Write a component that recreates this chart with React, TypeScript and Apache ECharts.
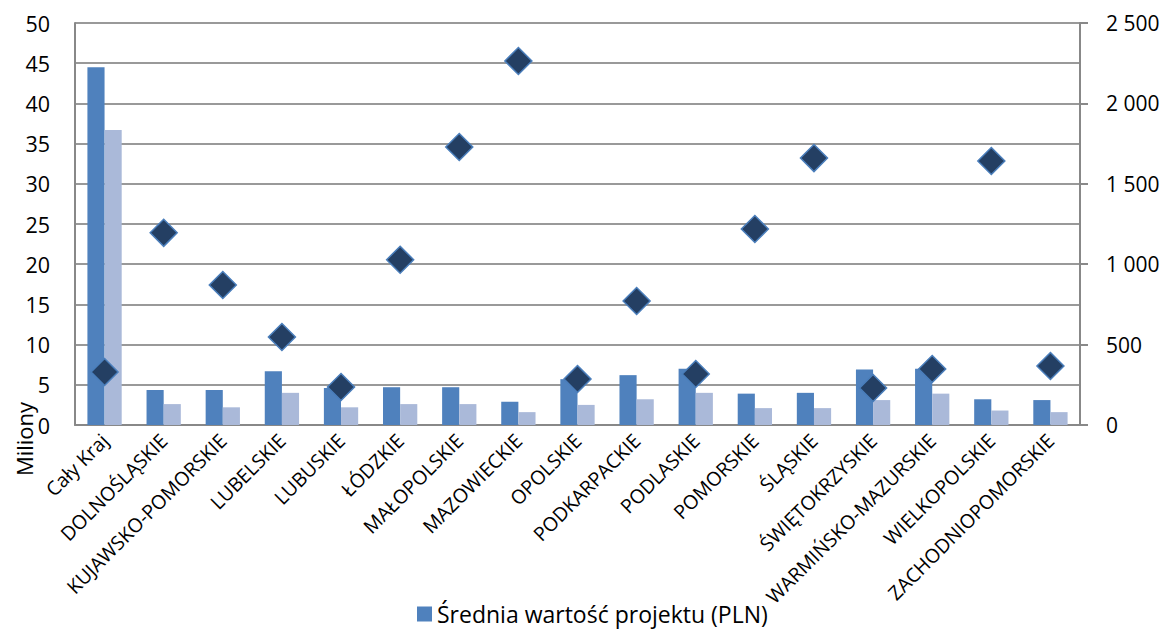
import React, { useEffect, useRef } from "react";
import * as echarts from "echarts";

const categories = [
  "Cały Kraj", "DOLNOŚLĄSKIE", "KUJAWSKO-POMORSKIE", "LUBELSKIE", "LUBUSKIE", "ŁÓDZKIE",
  "MAŁOPOLSKIE", "MAZOWIECKIE", "OPOLSKIE", "PODKARPACKIE", "PODLASKIE", "POMORSKIE",
  "ŚLĄSKIE", "ŚWIĘTOKRZYSKIE", "WARMIŃSKO-MAZURSKIE", "WIELKOPOLSKIE", "ZACHODNIOPOMORSKIE",
];
const sredniaWartosc = [44.5, 4.35, 4.35, 6.7, 4.6, 4.7, 4.7, 2.9, 5.7, 6.2, 7.0, 3.9, 4.0, 6.9, 7.0, 3.2, 3.1];
const medianaWartosc = [36.7, 2.6, 2.2, 4.0, 2.2, 2.6, 2.6, 1.6, 2.5, 3.2, 4.0, 2.1, 2.1, 3.1, 3.9, 1.8, 1.6];
const liczbaProjektow = [330, 1195, 871, 547, 236, 1028, 1729, 2264, 286, 771, 317, 1219, 1660, 230, 348, 1642, 367];
const leftTicks = { min: 0, max: 50, interval: 5 };
const rightTicks = { min: 0, max: 2500, interval: 500 };

const FONT = "Open Sans";

export default function App() {
  const ref = useRef<HTMLDivElement>(null);
  useEffect(() => {
    if (!ref.current) return;
    const chart = echarts.init(ref.current, undefined, { renderer: "svg" });
    chart.setOption({
      animation: false,
      textStyle: { fontFamily: FONT },
      grid: { left: 75, right: 89, top: 23, bottom: 204, containLabel: false },
      legend: {
        top: 597,
        left: 412,
        padding: [5, 5, 0, 5],
        data: ["Średnia wartość projektu (PLN)"],
        itemWidth: 15,
        itemHeight: 15,
        icon: "rect",
        textStyle: { fontSize: 23, color: "#000", fontFamily: FONT, lineHeight: 24 },
      },
      xAxis: {
        type: "category",
        data: categories,
        axisLine: { show: true, lineStyle: { color: "#888", width: 2 } },
        axisTick: { show: false },
        axisLabel: { rotate: 45, fontSize: 19.5, color: "#000", interval: 0, margin: 12, fontFamily: FONT },
      },
      yAxis: [
        {
          type: "value",
          ...leftTicks,
          axisLine: { show: true, lineStyle: { color: "#888", width: 2 } },
          axisTick: { show: false },
          splitLine: { show: true, lineStyle: { color: "#999", width: 2 } },
          axisLabel: { fontSize: 21.5, color: "#000", margin: 25, fontFamily: FONT },
        },
        {
          type: "value",
          ...rightTicks,
          position: "right",
          axisLine: { show: true, lineStyle: { color: "#888", width: 2 } },
          axisTick: { show: true, length: 8, lineStyle: { color: "#888", width: 2 } },
          splitLine: { show: false },
          axisLabel: {
            fontSize: 21,
            color: "#000",
            margin: 26,
            fontFamily: FONT,
            formatter: (v: number) => String(v).replace(/\B(?=(\d{3})+(?!\d))/g, " "),
          },
        },
      ],
      series: [
        {
          name: "Średnia wartość projektu (PLN)",
          type: "bar",
          data: sredniaWartosc,
          itemStyle: { color: "#4F81BD" },
          barGap: "0%",
          barCategoryGap: "42%",
        },
        {
          name: "Mediana wartości projektu (PLN)",
          type: "bar",
          data: medianaWartosc,
          itemStyle: { color: "#AAB9D9" },
          barGap: "0%",
          barCategoryGap: "42%",
        },
        {
          name: "Liczba projektów",
          type: "scatter",
          yAxisIndex: 1,
          data: liczbaProjektow,
          symbol: "diamond",
          symbolSize: 27,
          z: 5,
          itemStyle: { color: "#243F63", borderColor: "#4A7EBB", borderWidth: 1.5, opacity: 1 },
        },
      ],
      graphic: [
        {
          type: "text",
          x: 24,
          y: 439,
          rotation: Math.PI / 2,
          style: {
            text: "Miliony",
            fontSize: 22,
            fill: "#000",
            fontFamily: FONT,
            align: "center",
            verticalAlign: "middle",
          },
        },
      ],
    });
    return () => chart.dispose();
  }, []);
  return (
    <div
      ref={ref}
      style={{ position: "fixed", left: 0, top: 0, width: 1169, height: 629, background: "#fff" }}
    />
  );
}
